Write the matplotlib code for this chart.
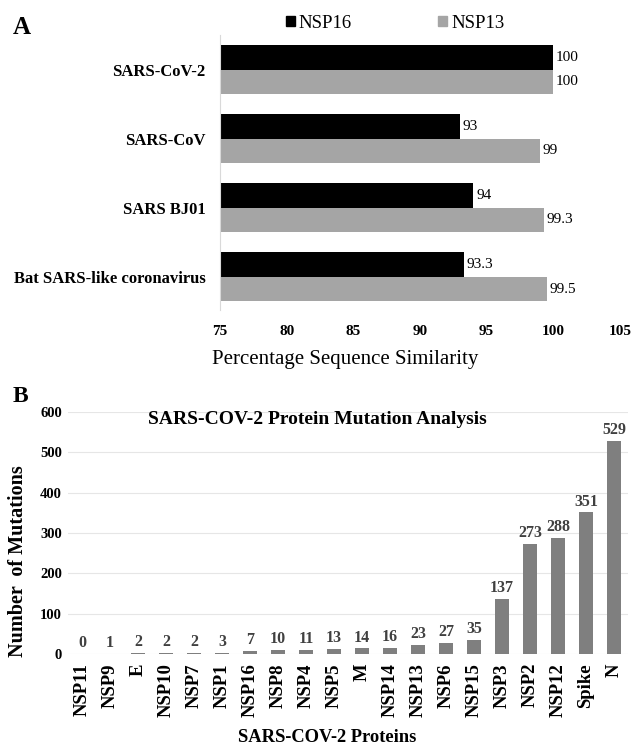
import matplotlib
matplotlib.use("Agg")
import matplotlib.pyplot as plt
import numpy as np
from matplotlib.patches import Patch

plt.rcParams['font.family'] = ['Liberation Serif', 'DejaVu Serif']

# panel A data
species = ["SARS-CoV-2", "SARS-CoV", "SARS BJ01", "Bat SARS-like coronavirus"]
nsp16 = [100, 93, 94, 93.3]
nsp13 = [100, 99, 99.3, 99.5]

# panel B data
proteins = ["NSP11", "NSP9", "E", "NSP10", "NSP7", "NSP1", "NSP16", "NSP8", "NSP4",
            "NSP5", "M", "NSP14", "NSP13", "NSP6", "NSP15", "NSP3", "NSP2", "NSP12",
            "Spike", "N"]
mutations = [0, 1, 2, 2, 2, 3, 7, 10, 11, 13, 14, 16, 23, 27, 35, 137, 273, 288, 351, 529]

W, H = 632, 748
fig = plt.figure(figsize=(W / 100, H / 100), dpi=100)

# ---- Panel A ----
axA = fig.add_axes([220 / W, 1 - 310 / H, 400 / W, 275 / H])
y = np.arange(len(species))
h = 0.354
axA.barh(y - h / 2, nsp16, height=h, left=0, color="black", label="NSP16")
axA.barh(y + h / 2, nsp13, height=h, left=0, color="#a5a5a5", label="NSP13")
for yi, v in zip(y, nsp16):
    axA.text(v + 0.2, yi - h / 2, f"{v:g}", va="center", ha="left", fontsize=11)
for yi, v in zip(y, nsp13):
    axA.text(v + 0.2, yi + h / 2, f"{v:g}", va="center", ha="left", fontsize=11)
axA.set_xlim(75, 105)
axA.set_ylim(3.48, -0.5)
axA.set_xticks(range(75, 106, 5))
axA.set_yticks(y)
axA.set_yticklabels(species, fontsize=12, fontweight="bold")
for lab in axA.get_xticklabels():
    lab.set_fontweight("bold")
    lab.set_fontsize(11)
axA.tick_params(length=0)
axA.tick_params(axis="x", pad=10.5)
axA.tick_params(axis="y", pad=10.5)
for s in ["top", "right", "bottom"]:
    axA.spines[s].set_visible(False)
axA.spines["left"].set_color("#d9d9d9")

handles = [Patch(color="black", label="NSP16"), Patch(color="#a5a5a5", label="NSP13")]
fig.legend(handles=handles, loc="center", bbox_to_anchor=(395 / W, 1 - 23 / H),
           ncol=2, frameon=False, fontsize=13.5, handlelength=0.5, handleheight=0.5,
           handletextpad=0.2, columnspacing=4.6)

fig.text(345 / W, 1 - 360 / H, "Percentage Sequence Similarity", fontsize=15,
         ha="center", va="center")
fig.text(13 / W, 1 - 28 / H, "A", fontsize=18, fontweight="bold", va="center")

# ---- Panel B ----
axB = fig.add_axes([68 / W, 1 - 654 / H, 560 / W, 242 / H])
x = np.arange(len(proteins))
axB.bar(x, mutations, width=0.53, color="#7f7f7f", zorder=3)
for xi, v in zip(x, mutations):
    axB.annotate(str(v), (xi, v), xytext=(0, 2), textcoords="offset points",
                 ha="center", va="bottom", fontsize=11.5, fontweight="bold",
                 color="#404040")
axB.set_xlim(-0.5, len(proteins) - 0.5)
axB.set_ylim(0, 600)
axB.set_yticks(range(0, 601, 100))
axB.set_xticks(x)
axB.set_xticklabels(proteins, rotation=90, fontsize=13.5, fontweight="bold")
for lab in axB.get_yticklabels():
    lab.set_fontweight("bold")
    lab.set_fontsize(10.5)
axB.tick_params(length=0)
axB.tick_params(axis="x", pad=6.5)
axB.tick_params(axis="y", pad=4.3)
axB.grid(axis="y", color="#e6e6e6", linewidth=0.8, zorder=0)
for s in axB.spines.values():
    s.set_visible(False)

fig.text(317 / W, 1 - 420 / H, "SARS-COV-2 Protein Mutation Analysis", fontsize=14,
         fontweight="bold", ha="center", va="center")
fig.text(327 / W, 1 - 737 / H, "SARS-COV-2 Proteins", fontsize=13.3,
         fontweight="bold", ha="center", va="center")
fig.text(18 / W, 1 - 561 / H, "Number  of Mutations", fontsize=14.5,
         fontweight="bold", rotation=90, ha="center", va="center")
fig.text(13 / W, 1 - 397 / H, "B", fontsize=17, fontweight="bold", va="center")

fig.savefig("out.png", dpi=100)
